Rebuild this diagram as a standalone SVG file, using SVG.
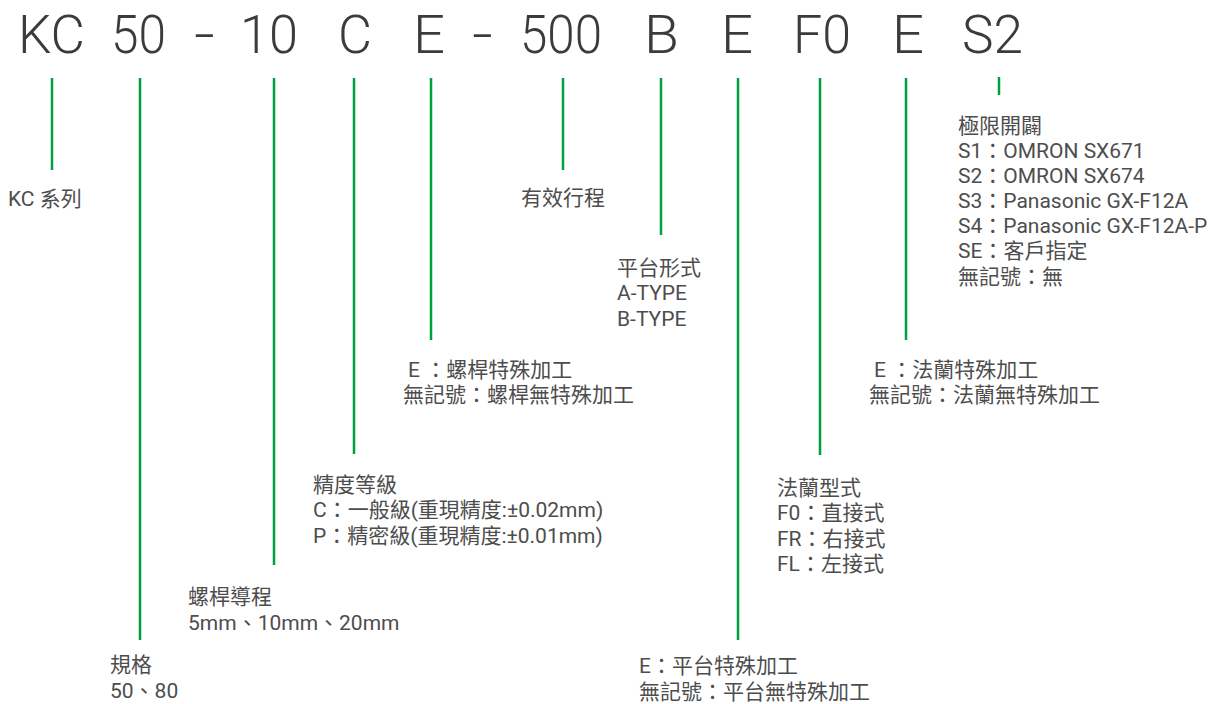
<svg xmlns="http://www.w3.org/2000/svg" width="1223" height="704" viewBox="0 0 1223 704">
<style>
.code{font-family:Roboto,"Liberation Sans",sans-serif;font-size:53px;font-weight:300;fill:#3e3a39;}
.t{font-family:Roboto,"Noto Sans CJK TC",sans-serif;font-size:21px;fill:#4d4d4d;}
.ln{stroke:#00a040;stroke-width:2.5;fill:none;}
</style>
<rect width="1223" height="704" fill="#ffffff"/>
<g id="code">
<text class="code" x="18" y="53" textLength="67" lengthAdjust="spacingAndGlyphs">KC</text>
<text class="code" x="111" y="53" textLength="55" lengthAdjust="spacingAndGlyphs">50</text>
<text class="code" x="194" y="53" textLength="21" lengthAdjust="spacingAndGlyphs">-</text>
<text class="code" x="240" y="53" textLength="58" lengthAdjust="spacingAndGlyphs">10</text>
<text class="code" x="338" y="53" textLength="34" lengthAdjust="spacingAndGlyphs">C</text>
<text class="code" x="413" y="53" textLength="32" lengthAdjust="spacingAndGlyphs">E</text>
<text class="code" x="472" y="53" textLength="21" lengthAdjust="spacingAndGlyphs">-</text>
<text class="code" x="520" y="53" textLength="82" lengthAdjust="spacingAndGlyphs">500</text>
<text class="code" x="644" y="53" textLength="35" lengthAdjust="spacingAndGlyphs">B</text>
<text class="code" x="721" y="53" textLength="32" lengthAdjust="spacingAndGlyphs">E</text>
<text class="code" x="793" y="53" textLength="58" lengthAdjust="spacingAndGlyphs">F0</text>
<text class="code" x="892" y="53" textLength="32" lengthAdjust="spacingAndGlyphs">E</text>
<text class="code" x="962" y="53" textLength="61" lengthAdjust="spacingAndGlyphs">S2</text>
</g>
<g id="connectors">
<line class="ln" x1="52" y1="78" x2="52" y2="170"/>
<line class="ln" x1="140" y1="78" x2="140" y2="640"/>
<line class="ln" x1="274" y1="78" x2="274" y2="565"/>
<line class="ln" x1="354" y1="78" x2="354" y2="454"/>
<line class="ln" x1="431" y1="78" x2="431" y2="340"/>
<line class="ln" x1="563" y1="78" x2="563" y2="170"/>
<line class="ln" x1="661" y1="78" x2="661" y2="235"/>
<line class="ln" x1="738" y1="78" x2="738" y2="640"/>
<line class="ln" x1="820" y1="78" x2="820" y2="455"/>
<line class="ln" x1="906" y1="78" x2="906" y2="340"/>
<line class="ln" x1="999" y1="77" x2="999" y2="95"/>
</g>
<g id="series">
<text class="t" x="8" y="206">KC 系列</text>
</g>
<g id="spec">
<text class="t" x="110" y="672">規格</text>
<text class="t" x="110" y="698">50、80</text>
</g>
<g id="lead">
<text class="t" x="188" y="604">螺桿導程</text>
<text class="t" x="188" y="630">5mm、10mm、20mm</text>
</g>
<g id="precision">
<text class="t" x="313" y="492">精度等級</text>
<text class="t" x="313" y="517">C：一般級(重現精度:±0.02mm)</text>
<text class="t" x="313" y="543">P：精密級(重現精度:±0.01mm)</text>
</g>
<g id="screw-process">
<text class="t" x="408" y="377">E ：螺桿特殊加工</text>
<text class="t" x="403" y="402">無記號：螺桿無特殊加工</text>
</g>
<g id="stroke">
<text class="t" x="521" y="205">有效行程</text>
</g>
<g id="platform">
<text class="t" x="617" y="275">平台形式</text>
<text class="t" x="617" y="300">A-TYPE</text>
<text class="t" x="617" y="326">B-TYPE</text>
</g>
<g id="platform-process">
<text class="t" x="639" y="673">E：平台特殊加工</text>
<text class="t" x="639" y="699">無記號：平台無特殊加工</text>
</g>
<g id="flange-type">
<text class="t" x="777" y="495">法蘭型式</text>
<text class="t" x="777" y="520">F0：直接式</text>
<text class="t" x="777" y="546">FR：右接式</text>
<text class="t" x="777" y="571">FL：左接式</text>
</g>
<g id="flange-process">
<text class="t" x="874" y="377">E ：法蘭特殊加工</text>
<text class="t" x="869" y="402">無記號：法蘭無特殊加工</text>
</g>
<g id="limit-switch">
<text class="t" x="958" y="133">極限開闢</text>
<text class="t" x="958" y="158">S1：OMRON SX671</text>
<text class="t" x="958" y="183">S2：OMRON SX674</text>
<text class="t" x="958" y="208">S3：Panasonic GX-F12A</text>
<text class="t" x="958" y="233">S4：Panasonic GX-F12A-P</text>
<text class="t" x="958" y="258">SE：客戶指定</text>
<text class="t" x="958" y="284">無記號：無</text>
</g>
</svg>
